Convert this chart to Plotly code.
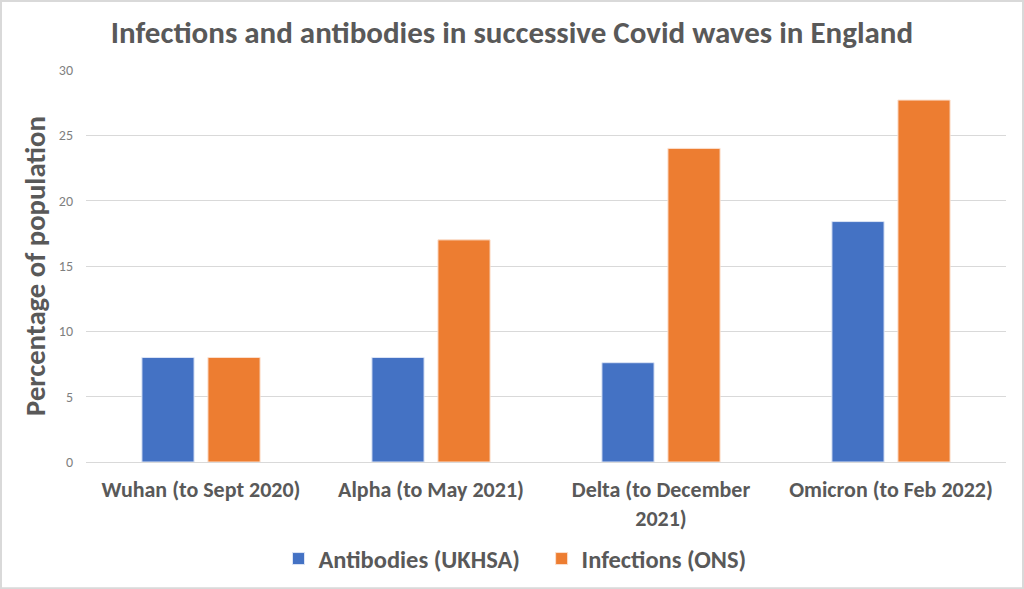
import plotly.graph_objects as go

categories = ["Wuhan (to Sept 2020)", "Alpha (to May 2021)", "Delta (to December<br>2021)", "Omicron (to Feb 2022)"]
antibodies = [8.0, 8.0, 7.6, 18.4]
infections = [8.0, 17.0, 24.0, 27.7]
y_ticks = [0, 5, 10, 15, 20, 25, 30]
series_names = ["Antibodies (UKHSA)", "Infections (ONS)"]

FONT = "Carlito, Calibri, Lato, sans-serif"
GREY = "#595959"
LIGHT = "#7f7f7f"

fig = go.Figure()
fig.add_trace(go.Bar(name="<b>" + series_names[0] + "</b>\u00a0\u00a0\u00a0", x=categories, y=antibodies,
                     marker=dict(color="#4472C4", line=dict(color="#dce4f5", width=1))))
fig.add_trace(go.Bar(name="<b>" + series_names[1] + "</b>", x=categories, y=infections,
                     marker=dict(color="#ED7D31", line=dict(color="#fbe0cf", width=1))))

fig.update_layout(
    width=1024, height=589,
    margin=dict(l=86, r=18, t=70, b=127, autoexpand=False),
    paper_bgcolor="white", plot_bgcolor="white",
    barmode="group", bargap=0.426, bargroupgap=0.21,
    title=dict(text="<b>Infections and antibodies in successive Covid waves in England</b>",
               x=0.5, xanchor="center", y=0.945, yanchor="middle",
               font=dict(family=FONT, size=31, color=GREY)),
    font=dict(family=FONT, color=GREY),
    legend=dict(orientation="h", x=(515 - 86) / 920, xanchor="center", y=-0.2465, yanchor="middle",
                font=dict(family=FONT, size=24.5, color=GREY), itemwidth=30,
                traceorder="normal"),
    xaxis=dict(tickfont=dict(family=FONT, size=22, color=GREY), showgrid=False,
               ticks="", showline=False, tickprefix="<b>", ticksuffix="</b>",
               ticklabelstandoff=12),
    yaxis=dict(range=[0, 30], tickvals=y_ticks, showgrid=True, gridcolor="#d9d9d9",
               gridwidth=1, zeroline=True, zerolinecolor="#d9d9d9", zerolinewidth=1,
               tickfont=dict(family=FONT, size=14, color=LIGHT), ticks="",
               ticklabelstandoff=12,
               title=dict(text="<b>Percentage of population</b>", standoff=4,
                          font=dict(family=FONT, size=28.7, color=GREY))),
    shapes=[dict(type="rect", xref="paper", yref="paper",
                 x0=-85/920, x1=1+17/920, y0=-126/391.5, y1=1+69/391.5,
                 line=dict(color="#d9d9d9", width=2), fillcolor="rgba(0,0,0,0)", layer="below")],
)

fig.write_html("out.html", config={"displayModeBar": False},
               post_script="document.body.style.margin='0';")
